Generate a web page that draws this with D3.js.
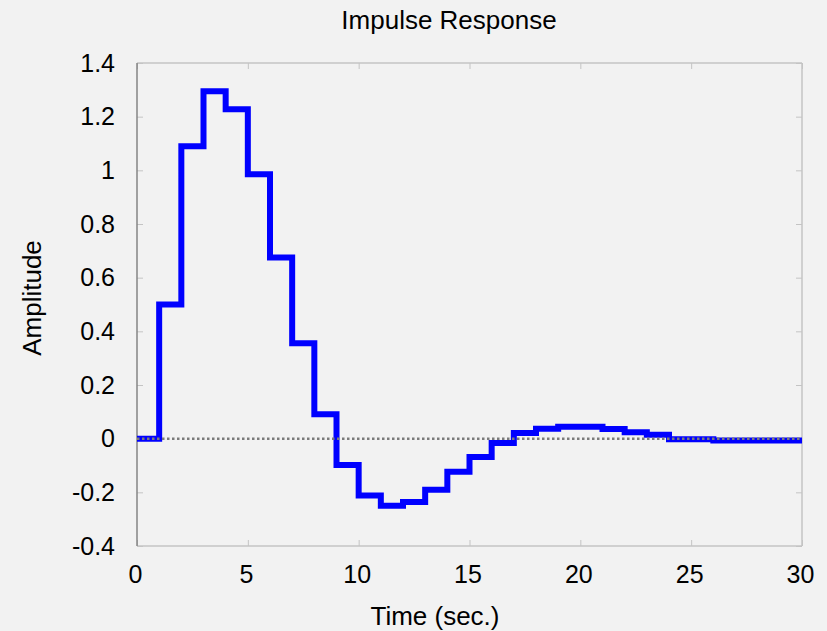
<!DOCTYPE html>
<html>

<head>
    <meta charset="utf-8">
    <style>
        body {
            margin: 0;
            background: #f2f2f2;
            font-family: Arial, "Liberation Sans", sans-serif;
        }

        svg {
            display: block;
        }

        .tick text {
            font-size: 25px;
            fill: #000;
        }

        .tick line {
            stroke: #c4c4c4;
        }

        .domain {
            display: none;
        }

        .label {
            font-size: 26px;
            fill: #000;
        }
    </style>
</head>

<body>
    <svg width="827" height="631"></svg>
</body>

<script src="https://d3js.org/d3.v7.min.js"></script>

<script>
    // sample index k (sec.) and the value held from k to k+1
    let times = d3.range(0, 31)
    let amplitude = [
        0, 0.5, 1.09, 1.295, 1.228, 0.985, 0.675, 0.356, 0.091, -0.098,
        -0.212, -0.25, -0.236, -0.19, -0.123, -0.068, -0.016, 0.021, 0.037, 0.044,
        0.044, 0.036, 0.024, 0.015, -0.002, -0.002, -0.007, -0.007, -0.007, -0.007,
        -0.007
    ]
    let xTicks = [0, 5, 10, 15, 20, 25, 30]
    let yTicks = [-0.4, -0.2, 0, 0.2, 0.4, 0.6, 0.8, 1, 1.2, 1.4]

    let data = times.map((t, i) => ({ t: t, v: amplitude[i] }))

    let width = 827;
    let height = 631;
    let margin = { top: 63, right: 25, bottom: 85, left: 137 };

    let svg = d3.select("svg")

    let x = d3.scaleLinear()
        .domain([0, 30])
        .range([margin.left, width - margin.right])

    let y = d3.scaleLinear()
        .domain([-0.4, 1.4])
        .range([height - margin.bottom, margin.top])

    // ticks point inward on all four sides
    svg.append("g")
        .attr("class", "x axis")
        .attr("transform", `translate(0,${height - margin.bottom})`)
        .call(d3.axisBottom(x).tickValues(xTicks).tickSize(-6).tickPadding(14).tickFormat(d => String(d)))
        .call(g => g.selectAll(".tick text").attr("dy", "0.9em").attr("dx", "-2"))

    svg.append("g")
        .attr("transform", `translate(0,${margin.top})`)
        .call(d3.axisTop(x).tickValues(xTicks).tickSize(-6).tickFormat(""))

    // plain hyphen for negatives, like the original
    svg.append("g")
        .attr("class", "y axis")
        .attr("transform", `translate(${margin.left},0)`)
        .call(d3.axisLeft(y).tickValues(yTicks).tickSize(-6).tickPadding(22).tickFormat(d => String(+d.toFixed(1))))

    svg.append("g")
        .attr("transform", `translate(${width - margin.right},0)`)
        .call(d3.axisRight(y).tickValues(yTicks).tickSize(-6).tickFormat(""))

    // frame
    svg.append("line")
        .attr("x1", margin.left).attr("x2", width - margin.right)
        .attr("y1", margin.top).attr("y2", margin.top)
        .attr("stroke", "#c4c4c4").attr("stroke-width", 1.5)
    svg.append("line")
        .attr("x1", margin.left).attr("x2", width - margin.right)
        .attr("y1", height - margin.bottom).attr("y2", height - margin.bottom)
        .attr("stroke", "#c4c4c4").attr("stroke-width", 1.5)
    svg.append("line")
        .attr("x1", width - margin.right).attr("x2", width - margin.right)
        .attr("y1", margin.top).attr("y2", height - margin.bottom)
        .attr("stroke", "#c4c4c4").attr("stroke-width", 1.5)
    svg.append("line")
        .attr("x1", margin.left).attr("x2", margin.left)
        .attr("y1", margin.top).attr("y2", height - margin.bottom)
        .attr("stroke", "#858585").attr("stroke-width", 1.5)

    // impulse response (zero-order hold)
    let line = d3.line()
        .x(d => x(d.t))
        .y(d => y(d.v))
        .curve(d3.curveStepAfter)

    svg.append("path")
        .datum(data)
        .attr("fill", "none")
        .attr("stroke", "#0000ff")
        .attr("stroke-width", 6)
        .attr("stroke-linejoin", "miter")
        .attr("d", line)

    // zero reference
    svg.append("line")
        .attr("x1", x(0)).attr("x2", x(30))
        .attr("y1", y(0)).attr("y2", y(0))
        .attr("stroke", "#7a7a7a")
        .attr("stroke-width", 2.5)
        .attr("stroke-dasharray", "2.5,2.5")

    svg.append("text")
        .attr("class", "label")
        .attr("x", 449)
        .attr("y", 29)
        .attr("text-anchor", "middle")
        .text("Impulse Response")

    svg.append("text")
        .attr("class", "label")
        .attr("x", 435)
        .attr("y", 625)
        .attr("text-anchor", "middle")
        .text("Time (sec.)")

    svg.append("text")
        .attr("class", "label")
        .attr("transform", "translate(41,298) rotate(-90)")
        .attr("text-anchor", "middle")
        .text("Amplitude")
</script>

</html>
